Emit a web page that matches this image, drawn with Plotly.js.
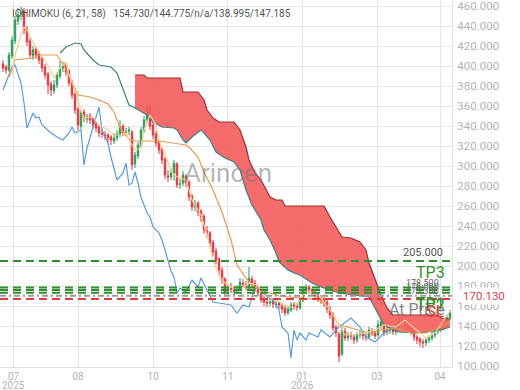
<!DOCTYPE html>
<html><head><meta charset="utf-8">
<script src="https://cdn.plot.ly/plotly-3.0.1.min.js"></script>
<style>html,body{margin:0;padding:0;background:#fff;}#chart{width:520px;height:390px;}</style>
</head><body><div id="chart"></div>
<script>
// ---- candle data (bar index = position in arrays) ----
const opens  = [402,399,396,410,425,445,452,455,437,425,410,417,412,407,399,392,382,375,381,390,398,401,395,384,372,357,340,354,347,350,347,342,339,333,331,331,329,325,328,331,340,333,335,334,302,310,320,335,346,359,341,332,324,317,307,290,289,293,302,282,283,290,284,270,259,263,255,250,235,233,224,215,207,196,187,175,178,176,175,177,183,181,180,187,183,178,172,167,164,163,165,161,163,160,158,153,156,161,160,158,166,175,179,176,173,171,168,167,164,157,152,139,132,112,135,128,131,129,126,131,133,129,129,135,133,131,140,143,134,136,136,134,138,147,146,144,139,134,129,127,124,123,126,128,131,135,137,139,143,148];
const closes = [398,396,411,426,446,451,454,436,424,411,416,411,406,398,391,381,376,381,391,398,400,394,383,371,356,341,353,348,349,346,341,338,333,332,330,328,326,328,332,339,333,334,336,301,311,321,336,346,360,340,331,323,316,306,291,289,293,303,281,282,291,283,269,259,262,254,249,236,233,223,214,206,196,186,174,177,177,175,176,184,182,179,188,182,177,173,166,164,163,164,162,162,161,157,153,157,161,160,159,166,176,178,176,173,170,168,166,163,157,151,138,133,110,136,128,131,130,126,131,132,130,129,136,133,130,141,144,133,136,136,134,138,148,146,144,139,134,129,126,124,123,126,128,131,135,137,139,143,148,153];
const highs  = [406,401,414,430,450,458,459,458,440,428,420,419,415,409,402,394,385,386,394,405,404,403,397,386,374,359,356,357,352,353,349,345,341,337,335,333,331,333,336,346,342,338,339,336,314,324,339,350,364,362,344,335,326,319,309,296,298,306,304,287,295,292,286,272,266,265,257,252,240,235,226,218,209,199,189,181,183,180,181,188,187,185,199,190,186,180,174,170,168,168,167,166,165,162,160,160,164,164,163,169,180,182,181,178,176,173,171,169,166,160,154,141,134,139,138,134,134,132,134,136,135,133,139,138,135,146,150,145,140,140,139,142,152,150,149,146,141,136,131,129,127,129,131,134,138,140,142,146,151,156];
const lows   = [394,392,394,407,422,441,446,432,420,407,406,407,402,394,387,372,370,372,378,387,394,390,380,367,352,336,337,344,343,342,337,334,329,328,326,323,321,322,325,329,330,330,331,296,298,307,318,333,343,336,327,319,312,302,287,284,286,285,278,277,280,279,265,255,255,250,244,232,228,219,210,202,191,182,170,171,173,171,172,175,178,176,177,179,174,170,163,160,159,160,158,158,157,153,150,151,154,156,155,156,164,172,172,170,167,164,162,159,153,147,135,129,104,110,125,125,126,122,123,128,126,125,127,130,127,129,137,130,131,132,131,131,136,142,140,136,131,125,122,119,118,120,123,125,128,132,134,136,140,146];

// ---- indicator lines: [bar index] / [value] ----
const tenkanX = [3,4,6,7,8,10,12,14,16,17,19,21,22,24,26,27,30,32,35,37,39,41,42,44,46,47,49,51,52,54,56,57,59,61,63,66,68,70,72,74,76,79,82,85,87,91,94,97,99,101,103,106,109,112,114,117,121,124,127,131,134,137,141,144,147,149];
const tenkanY = [391,411,431,439,436,424,414,406,394,388,398,404,391,376,356,348,349,341,336,331,331,333,326,316,318,336,351,341,326,311,296,291,288,286,266,251,231,206,191,183,179,176,183,181,171,166,161,158,166,176,174,168,156,141,131,131,133,136,141,139,146,138,128,133,146,155];
const kijunX = [2,4,10,12,18,20,22,25,29,32,35,37,39,42,44,52,61,62,65,67,70,73,76,78,81,83,86,92,99,106,109,112,116,122,126,131,136,141,146,149];
const kijunY = [389,406,408,411,411,402,391,371,369,366,362,354,338,327,325,325,321,319,309,294,276,254,226,201,188,181,176,170,168,166,156,141,138,133,136,138,133,133,139,145];
const chikouX = [0,2,3,4,6,7,8,10,11,12,13,16,18,20,22,23,24,26,27,28,30,32,33,35,36,38,40,41,42,43,44,45,46,47,48,49,50,52,53,54,55,56,57,58,59,61,63,65,66,68,70,72,76,78,80,82,84,86,88,90,92,93,95,96,97,98,99,101,102,105,106,109,112,116,119,121,124,127,131,132];
const chikouY = [376,391,399,401,383,363,338,353,348,349,341,333,329,326,333,339,333,336,301,318,339,359,336,323,309,286,293,303,281,283,294,283,269,260,253,249,239,233,226,216,206,195,189,173,178,174,186,179,188,176,164,163,161,153,161,159,179,176,169,166,156,139,133,108,136,126,133,126,133,129,136,129,139,148,139,129,124,133,139,141];
const spanAX = [19,21,24,26,27,30,32,36,38,40,42,44,48,50,53,57,58,60,61,63,66,67,69,71,74,77,79,81,83,86,87,89,91,92,95,97,99,103,106,112,122,124,127,130,132,139,146,149];
const spanAY = [413,419,423,422,416,406,401,399,393,376,361,358,351,344,339,338,336,326,323,329,336,333,326,314,308,304,296,276,261,246,236,226,213,204,196,193,191,183,179,173,169,158,141,136,134,133,136,139];
const spanBX = [44,47,48,59,60,65,67,68,70,72,77,79,81,82,84,86,89,91,93,94,107,109,113,116,119,121,122,124,126,128,130,145,146,149];
const spanBY = [391,391,388,388,374,374,366,356,348,344,344,336,319,306,293,286,269,266,266,260,260,249,229,228,224,216,203,186,171,158,151,151,148,147];

// ---- axis ticks and trade levels ----
const monthTickPos = [3.5,25,50,75,99.7,124.7,145.7];
const monthTickText = ['07','08','10','11','01','03','04'];
const yearTickPos = [3.5,99.7];
const yearTickText = ['2025','2026'];
const priceTicks = [100,120,140,160,180,200,220,240,260,280,300,320,340,360,380,400,420,440,460];
const levelValues = [205, 178.5, 176, 173.3, 170.13, 167];
const levelColors = ['#2f8f2f','#2f8f2f','#2f8f2f','#2f8f2f','#9a9a9a','#e03a3a'];
const lastPrice = 170.13;
const titleText = 'ICHIMOKU (6, 21, 58)   154.730/144.775/n/a/138.995/147.185';

const barX = closes.map((_, i) => i);

// cloud polygon: span B forward, span A (where B exists) backward
const bStart = spanBX[0];
const aIdx = spanAX.map((x, i) => i).filter(i => spanAX[i] >= bStart).reverse();
const cloudX = spanBX.concat(aIdx.map(i => spanAX[i]));
const cloudY = spanBY.concat(aIdx.map(i => spanAY[i]));

const traces = [
  {type:'scatter', x:cloudX, y:cloudY, fill:'toself', fillcolor:'rgba(245,96,96,0.92)', line:{width:0}, mode:'lines', hoverinfo:'skip'},
  {type:'scatter', x:spanBX, y:spanBY, mode:'lines', line:{color:'#9c2f35', width:1.2}, hoverinfo:'skip'},
  {type:'scatter', x:spanAX, y:spanAY, mode:'lines', line:{color:'#3f7f80', width:1.2}, hoverinfo:'skip'},
  {type:'scatter', x:chikouX, y:chikouY, mode:'lines', line:{color:'#5a9bd8', width:1.2}, hoverinfo:'skip'},
  {type:'scatter', x:kijunX, y:kijunY, mode:'lines', line:{color:'#e49a4c', width:1.2}, hoverinfo:'skip'},
  {type:'scatter', x:tenkanX, y:tenkanY, mode:'lines', line:{color:'#f5cf93', width:1.2}, hoverinfo:'skip'},
  {type:'candlestick', x:barX, open:opens, high:highs, low:lows, close:closes,
   increasing:{line:{color:'#2e9a56', width:1}, fillcolor:'#2e9a56'},
   decreasing:{line:{color:'#e2363f', width:1}, fillcolor:'#e2363f'},
   whiskerwidth:0, hoverinfo:'skip'}
];

const shapes = levelValues.map((v, i) => ({
  type:'line', xref:'paper', x0:0, x1:1, yref:'y', y0:v, y1:v,
  line:{color:levelColors[i], width:2, dash: i===4 ? '6px,3px,2px,3px' : '8px,5px'}
}));

const annotations = [
  {xref:'paper', yref:'paper', x:0.022, y:0.985, xanchor:'left', yanchor:'top', showarrow:false,
   text:titleText, font:{family:'Roboto', size:10, color:'#555'}},
  {xref:'paper', yref:'paper', x:0.505, y:0.528, xanchor:'center', yanchor:'middle', showarrow:false,
   text:'Arincen', font:{family:'Roboto', size:26, color:'rgba(120,120,120,0.55)'}},
  {xref:'paper', x:0.985, yref:'y', y:levelValues[0], xanchor:'right', yanchor:'bottom', showarrow:false,
   text:'205.000', font:{family:'Roboto', size:11, color:'#555'}},
  {xref:'paper', x:0.99, yref:'y', y:levelValues[1], xanchor:'right', yanchor:'bottom', yshift:4, showarrow:false,
   text:'TP3', font:{family:'Roboto', size:16, color:'#2f8f2f'}},
  {xref:'paper', x:0.975, yref:'y', y:levelValues[1], xanchor:'right', yanchor:'middle', yshift:5, showarrow:false,
   text:'178.500', font:{family:'Roboto', size:9, color:'#666'}},
  {xref:'paper', x:0.975, yref:'y', y:levelValues[2], xanchor:'right', yanchor:'middle', yshift:3, showarrow:false,
   text:'176.000', font:{family:'Roboto', size:9, color:'#666'}},
  {xref:'paper', x:0.975, yref:'y', y:levelValues[3], xanchor:'right', yanchor:'middle', yshift:2, showarrow:false,
   text:'173.300', font:{family:'Roboto', size:9, color:'#666'}},
  {xref:'paper', x:0.99, yref:'y', y:levelValues[3], xanchor:'right', yanchor:'top', yshift:-1, showarrow:false,
   text:'TP2', font:{family:'Roboto', size:16, color:'#2f8f2f'}},
  {xref:'paper', x:0.99, yref:'y', y:levelValues[3], xanchor:'right', yanchor:'top', yshift:1, showarrow:false,
   text:'TP1', font:{family:'Roboto', size:16, color:'#2f8f2f'}},
  {xref:'paper', x:0.99, yref:'y', y:levelValues[4], xanchor:'right', yanchor:'top', yshift:-2, showarrow:false,
   text:'At Price', font:{family:'Roboto', size:16, color:'rgba(110,110,110,0.85)'}},
  {xref:'paper', x:0.99, yref:'y', y:levelValues[5], xanchor:'right', yanchor:'top', yshift:-1, showarrow:false,
   text:'SL', font:{family:'Roboto', size:16, color:'#e03a3a'}},
  {xref:'paper', x:1.02, yref:'y', y:lastPrice, xanchor:'left', yanchor:'middle', showarrow:false,
   text:lastPrice.toFixed(3), font:{family:'Roboto', size:11.5, color:'#d9434b'}, bgcolor:'#fff'}
].concat(yearTickPos.map((p, i) => ({
  xref:'x', x:p, yref:'paper', y:0, yshift:-18, xanchor:'center', yanchor:'middle', showarrow:false,
  text:yearTickText[i], font:{family:'Roboto', size:10, color:'#b3b3b3'}
})));

const layout = {
  width:520, height:390,
  margin:{l:0, r:68, t:0, b:23},
  paper_bgcolor:'#fff', plot_bgcolor:'#fff',
  showlegend:false,
  xaxis:{range:[-1, 149.67], tickvals:monthTickPos, ticktext:monthTickText, showgrid:true, gridcolor:'#e4e4e4',
         zeroline:false, showline:true, linecolor:'#e0e0e0', ticks:'', rangeslider:{visible:false}, automargin:false,
         ticklabeloverflow:'allow', tickfont:{family:'Roboto', size:10, color:'#b3b3b3'}, fixedrange:true},
  yaxis:{range:[99, 466], autorange:false, side:'right', tickvals:priceTicks, ticktext:priceTicks.map(v => v.toFixed(3)), automargin:false,
         showgrid:true, gridcolor:'#e4e4e4', zeroline:false, showline:true, linecolor:'#e0e0e0', ticks:'',
         ticklabeloverflow:'allow', ticklabelstandoff:2, tickfont:{family:'Roboto', size:11.5, color:'#b3b3b3'}, fixedrange:true},
  shapes:shapes, annotations:annotations
};

Plotly.newPlot('chart', traces, layout, {staticPlot:true, displayModeBar:false});
</script></body></html>
